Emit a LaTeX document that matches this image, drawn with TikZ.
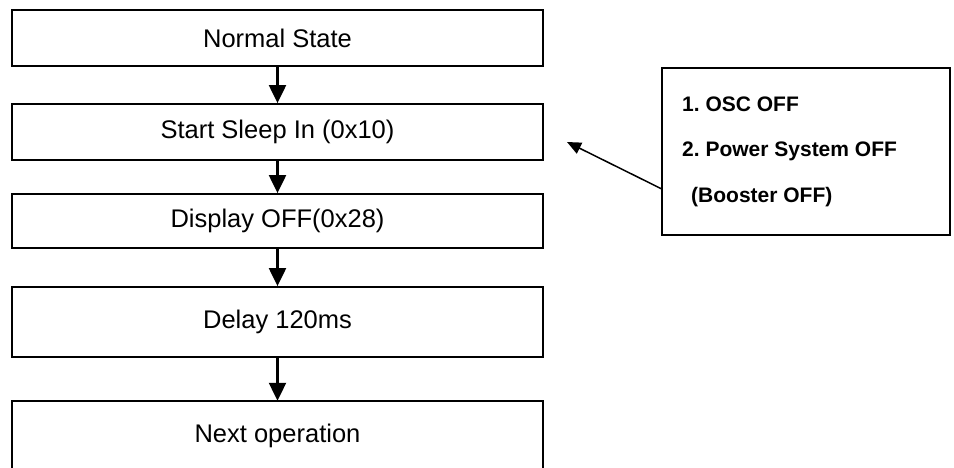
\documentclass[tikz,border=0pt]{standalone}
\usepackage{fontspec}
\setmainfont{Liberation Sans}
\usetikzlibrary{arrows.meta,calc}
\frenchspacing
\begin{document}
\begin{tikzpicture}[x=1pt,y=-1pt,
  flowbox/.style={draw,line width=1.8pt,minimum width=531pt,inner sep=0pt,font=\fontsize{25.5}{30}\selectfont},
  flowtext/.style={inner sep=0pt,font=\fontsize{25.5}{30}\selectfont},
  flowarrow/.style={line width=2.2pt,-{Triangle[length=18pt,width=17pt]}},
  notebox/.style={draw,line width=1.8pt,minimum width=288pt,minimum height=167pt,inner sep=0pt},
  notetext/.style={inner sep=0pt,align=left,font=\fontsize{21}{45.5}\selectfont\bfseries},
  notearrow/.style={line width=1.5pt,-{Triangle[length=14pt,width=12pt]}}]
\useasboundingbox (0,0) rectangle (954,468);
\node[flowbox,minimum height=56pt] (n1) at (277.5,38) {Normal State};
\node[flowbox,minimum height=56pt] (n2) at (277.5,132) {Start Sleep In (0x10)};
\node[flowbox,minimum height=54pt] (n3) at (277.5,221) {Display OFF(0x28)};
\node[flowbox,minimum height=70pt] (n4) at (277.5,322) {Delay 120ms};
\node[minimum width=531pt,minimum height=80pt,inner sep=0pt] (n5frame) at (277.5,441) {};
\node[flowtext] (n5) at (277.5,436) {Next operation};
\draw[line width=1.8pt] (n5frame.south west) -- (n5frame.north west) -- (n5frame.north east) -- (n5frame.south east);
\coordinate (n5top) at (n5frame.north);
\draw[flowarrow] (n1) -- (n2);
\draw[flowarrow] (n2) -- (n3);
\draw[flowarrow] (n3) -- (n4);
\draw[flowarrow] (n4) -- (n5top);
\node[notebox] (note) at (806,151.5) {};
\node[notetext,anchor=west] (notetxt) at (682,151.5) {1. OSC OFF\\2. Power System OFF\\\hspace*{9pt}(Booster OFF)};
\coordinate (tail) at ($(note.north west)!0.72!(note.south west)$);
\coordinate (tip) at (567,142);
\draw[notearrow] (tail) -- (tip);
\end{tikzpicture}
\end{document}
